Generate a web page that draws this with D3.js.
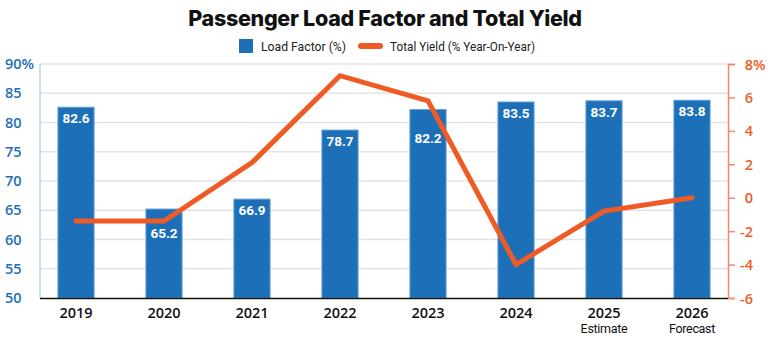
<!DOCTYPE html>
<html>
<head>
<meta charset="utf-8">
<script src="https://cdn.jsdelivr.net/npm/d3@7"></script>
<style>
  body { margin: 0; background: #fff; }
  svg { display: block; }
</style>
</head>
<body>
<svg id="chart" width="775" height="338"></svg>
<script>
// chart data
var years = ["2019", "2020", "2021", "2022", "2023", "2024", "2025", "2026"];
var subLabels = ["", "", "", "", "", "", "Estimate", "Forecast"];
var loadFactor = [82.6, 65.2, 66.9, 78.7, 82.2, 83.5, 83.7, 83.8];
var totalYield = [-1.4, -1.4, 2.1, 7.3, 5.8, -4.0, -0.8, 0.0];
var leftTicks = [50, 55, 60, 65, 70, 75, 80, 85, 90];
var rightTicks = [-6, -4, -2, 0, 2, 4, 6, 8];

var blue = "#1d70b7", orange = "#f05a24";
var svg = d3.select("#chart");

var x = d3.scaleBand().domain(years).range([32, 736]).paddingInner(0.59).paddingOuter(0.295);
var yL = d3.scaleLinear().domain([50, 90]).range([298, 64]);
var yR = d3.scaleLinear().domain([-6, 8]).range([298, 64]);

// title
svg.append("text")
  .attr("x", 385).attr("y", 26)
  .attr("text-anchor", "middle")
  .style("font-family", "Inter, Roboto, sans-serif")
  .style("font-weight", 800)
  .style("font-size", "21.5px")
  .style("letter-spacing", "-0.3px")
  .attr("fill", "#111")
  .text("Passenger Load Factor and Total Yield");

// legend
var leg = svg.append("g").style("font-family", "Roboto, sans-serif").style("font-size", "13.5px");
leg.append("rect").attr("x", 239).attr("y", 39).attr("width", 14).attr("height", 14).attr("fill", blue);
leg.append("text").attr("x", 261).attr("y", 51).attr("fill", "#222")
  .attr("textLength", 85).attr("lengthAdjust", "spacingAndGlyphs").text("Load Factor (%)");
leg.append("line").attr("x1", 361).attr("x2", 380).attr("y1", 46).attr("y2", 46)
  .attr("stroke", orange).attr("stroke-width", 6).attr("stroke-linecap", "round");
leg.append("text").attr("x", 390).attr("y", 51).attr("fill", "#222")
  .attr("textLength", 145).attr("lengthAdjust", "spacingAndGlyphs").text("Total Yield (% Year-On-Year)");

// gridlines
svg.append("g").selectAll("line")
  .data(leftTicks.slice(1))
  .join("line")
    .attr("x1", 40).attr("x2", 728)
    .attr("y1", d => yL(d)).attr("y2", d => yL(d))
    .attr("stroke", "#e3e3e3").attr("stroke-width", 1.5);

// bars
svg.append("g").selectAll("rect")
  .data(loadFactor)
  .join("rect")
    .attr("x", (d, i) => x(years[i]))
    .attr("y", d => yL(d))
    .attr("width", x.bandwidth())
    .attr("height", d => yL(50) - yL(d))
    .attr("fill", blue)
    .attr("stroke", "#5a9ad6").attr("stroke-width", 1);

// labels pushed down where the yield line crosses the bar top
var labelDrop = { "2020": 29, "2023": 33 };
svg.append("g").selectAll("text")
  .data(loadFactor)
  .join("text")
    .attr("x", (d, i) => x(years[i]) + x.bandwidth() / 2)
    .attr("y", (d, i) => yL(d) + (labelDrop[years[i]] || 16))
    .attr("text-anchor", "middle")
    .attr("fill", "#fff")
    .style("font-family", "Roboto, sans-serif")
    .style("font-weight", 700)
    .style("font-size", "13.5px")
    .text(d => d.toFixed(1));

// yield line
var line = d3.line()
  .x((d, i) => x(years[i]) + x.bandwidth() / 2)
  .y(d => yR(d));
svg.append("path")
  .datum(totalYield)
  .attr("d", line)
  .attr("fill", "none")
  .attr("stroke", orange)
  .attr("stroke-width", 5)
  .attr("stroke-linecap", "round")
  .attr("stroke-linejoin", "miter");

// left axis
var gl = svg.append("g");
gl.append("line").attr("x1", 40).attr("x2", 40).attr("y1", 64).attr("y2", 298)
  .attr("stroke", "#b9d3ec").attr("stroke-width", 1.5);
gl.selectAll("text")
  .data(leftTicks)
  .join("text")
    .attr("x", 5).attr("y", d => yL(d) + 5)
    .attr("fill", blue)
    .style("font-family", "'Open Sans', sans-serif")
    .style("font-weight", 600)
    .style("font-size", "14.5px")
    .text(d => d === 90 ? d + "%" : d);

// right axis
var gr = svg.append("g").attr("transform", "translate(728,0)");
gr.call(d3.axisRight(yR).tickValues(rightTicks).tickSize(7).tickFormat(""));
gr.select(".domain").attr("stroke", "#f3896a").attr("stroke-width", 1.5);
gr.selectAll(".tick line").attr("stroke", "#f3896a").attr("stroke-width", 1.5);
gr.selectAll(".tick").append("text")
    .attr("x", 25).attr("dy", 5)
    .attr("text-anchor", "end")
    .attr("fill", orange)
    .style("font-family", "'Open Sans', sans-serif")
    .style("font-weight", 600)
    .style("font-size", "14.5px")
    .text(d => d);
gr.selectAll(".tick").filter(d => d === 8).append("text")
    .attr("x", 25).attr("dy", 5)
    .attr("fill", orange)
    .style("font-family", "'Open Sans', sans-serif")
    .style("font-weight", 600)
    .style("font-size", "14.5px")
    .text("%");

// bottom axis
svg.append("line").attr("x1", 40).attr("x2", 728).attr("y1", 298.5).attr("y2", 298.5)
  .attr("stroke", "#111").attr("stroke-width", 1.5);
var gx = svg.append("g");
gx.selectAll("text.year")
  .data(years)
  .join("text")
    .attr("class", "year")
    .attr("x", d => x(d) + x.bandwidth() / 2)
    .attr("y", 318)
    .attr("text-anchor", "middle")
    .attr("fill", "#111")
    .style("font-family", "'Open Sans', sans-serif")
    .style("font-weight", 600)
    .style("font-size", "14.5px")
    .text(d => d);
gx.selectAll("text.sub")
  .data(subLabels)
  .join("text")
    .attr("class", "sub")
    .attr("x", (d, i) => x(years[i]) + x.bandwidth() / 2)
    .attr("y", 333)
    .attr("text-anchor", "middle")
    .attr("fill", "#111")
    .style("font-family", "Roboto, sans-serif")
    .style("font-size", "12.5px")
    .style("letter-spacing", "-0.3px")
    .text(d => d);
</script>
</body>
</html>
